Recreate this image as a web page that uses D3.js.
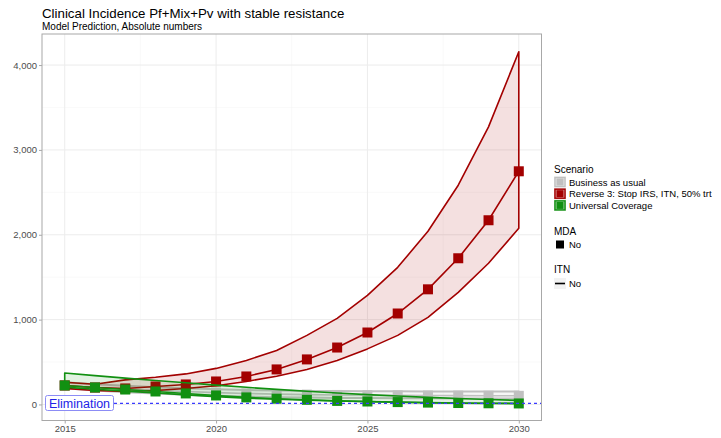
<!DOCTYPE html>
<html>
<head>
<meta charset="utf-8">
<script src="https://cdn.jsdelivr.net/npm/d3@7"></script>
<style>
  body { margin: 0; background: #fff; }
  svg { font-family: "Liberation Sans", Arial, sans-serif; }
</style>
</head>
<body>
<svg id="chart" width="721" height="438"></svg>
<script>
// Years of the model run
const years = [2015, 2016, 2017, 2018, 2019, 2020, 2021, 2022, 2023, 2024, 2025, 2026, 2027, 2028, 2029, 2030];

// Business as usual: median and uncertainty band
const bauMid   = [224, 200, 182, 166, 152, 140, 130, 122, 116, 112, 109, 107, 105, 104, 103, 102];
const bauLow   = [190, 165, 145, 128, 114, 102, 93, 86, 81, 77, 75, 73, 72, 71, 70, 70];
const bauHigh  = [262, 238, 220, 204, 190, 178, 170, 164, 160, 158, 156, 155, 154, 153, 152, 152];

// Reverse 3: Stop IRS, ITN, 50% trt
const revMid   = [224, 200, 189, 212, 236, 271, 330, 413, 531, 671, 848, 1072, 1357, 1723, 2171, 2748];
const revLow   = [190, 165, 153, 165, 189, 220, 271, 333, 413, 519, 655, 814, 1027, 1321, 1664, 2077];
const revHigh  = [262, 238, 290, 320, 360, 425, 519, 637, 814, 1015, 1286, 1616, 2041, 2584, 3272, 4157];

// Universal Coverage
const ucMid    = [224, 200, 176, 153, 130, 106, 83, 68, 55, 42, 35, 28, 22, 17, 14, 12];
const ucLow    = [204, 180, 157, 135, 113, 92, 75, 62, 50, 40, 33, 26, 20, 15, 12, 10];
const ucHigh   = [370, 340, 310, 282, 255, 228, 202, 178, 156, 135, 116, 99, 84, 70, 58, 48];

const scenarioNames = ["Business as usual", "Reverse 3: Stop IRS, ITN, 50% trt", "Universal Coverage"];
const scenarioColors = ["#c0c0c0", "#a30000", "#119011"];

const yTicks = [0, 1000, 2000, 3000, 4000];
const xTicks = [2015, 2020, 2025, 2030];
const eliminationLevel = 0;

const svg = d3.select("#chart");
const M = { left: 42, right: 541.5, top: 34, bottom: 420.5 };

const x = d3.scaleLinear().domain([2014.25, 2030.75]).range([M.left, M.right]);
const y = d3.scaleLinear().domain([-189, 4366]).range([M.bottom, M.top]);

// Title block
svg.append("text").attr("x", 42).attr("y", 18).attr("font-size", 13.3).attr("fill", "#000")
  .text("Clinical Incidence Pf+Mix+Pv with stable resistance");
svg.append("text").attr("x", 42).attr("y", 30).attr("font-size", 10).attr("fill", "#000")
  .text("Model Prediction, Absolute numbers");

// Grid
const grid = svg.append("g");
const minorY = [500, 1500, 2500, 3500];
const minorX = [2017.5, 2022.5, 2027.5];
grid.selectAll(".mny").data(minorY).join("line")
  .attr("x1", M.left).attr("x2", M.right).attr("y1", d => y(d)).attr("y2", d => y(d))
  .attr("stroke", "#f5f5f5").attr("stroke-width", 0.6);
grid.selectAll(".mnx").data(minorX).join("line")
  .attr("y1", M.top).attr("y2", M.bottom).attr("x1", d => x(d)).attr("x2", d => x(d))
  .attr("stroke", "#f5f5f5").attr("stroke-width", 0.6);
grid.selectAll(".mjy").data(yTicks).join("line")
  .attr("x1", M.left).attr("x2", M.right).attr("y1", d => y(d)).attr("y2", d => y(d))
  .attr("stroke", "#ececec").attr("stroke-width", 1);
grid.selectAll(".mjx").data(xTicks).join("line")
  .attr("y1", M.top).attr("y2", M.bottom).attr("x1", d => x(d)).attr("x2", d => x(d))
  .attr("stroke", "#ececec").attr("stroke-width", 1);

// Series
const series = [
  { mid: bauMid, low: bauLow, high: bauHigh },
  { mid: revMid, low: revLow, high: revHigh },
  { mid: ucMid, low: ucLow, high: ucHigh }
];

const line = d3.line().x(d => x(d.year)).y(d => y(d.v));

const plot = svg.append("g");
series.forEach((s, i) => {
  const rows = years.map((yr, k) => ({ year: yr, low: s.low[k], high: s.high[k], mid: s.mid[k] }));
  const col = scenarioColors[i];
  const g = plot.append("g");
  // band fill and outline (closed polygon)
  const poly = rows.map(r => [x(r.year), y(r.high)]).concat(rows.slice().reverse().map(r => [x(r.year), y(r.low)]));
  g.append("path").attr("d", "M" + poly.join("L") + "Z")
    .attr("fill", col).attr("fill-opacity", i === 0 ? 0.15 : 0.12)
    .attr("stroke", col).attr("stroke-width", i === 0 ? 2 : 1.6).attr("stroke-linejoin", "round");
  // median line
  g.append("path").attr("d", line(rows.map(r => ({ year: r.year, v: r.mid }))))
    .attr("fill", "none").attr("stroke", col).attr("stroke-width", 1.6);
  // markers
  g.selectAll("rect").data(rows).join("rect")
    .attr("x", r => x(r.year) - 5).attr("y", r => y(r.mid) - 5)
    .attr("width", 10).attr("height", 10).attr("fill", col);
});

// Elimination reference
svg.append("line").attr("x1", 114).attr("x2", M.right).attr("y1", y(eliminationLevel) - 1).attr("y2", y(eliminationLevel) - 1)
  .attr("stroke", "#3a3aff").attr("stroke-width", 1.2).attr("stroke-dasharray", "3,3");
svg.append("rect").attr("x", 45.5).attr("y", 395.5).attr("width", 68).attr("height", 15)
  .attr("rx", 2).attr("fill", "#fff").attr("stroke", "#8c8cf5").attr("stroke-width", 1);
svg.append("text").attr("x", 79.5).attr("y", 407.5).attr("text-anchor", "middle")
  .attr("font-size", 12.5).attr("fill", "#2323e6").text("Elimination");

// Panel border
svg.append("rect").attr("x", M.left).attr("y", M.top).attr("width", M.right - M.left).attr("height", M.bottom - M.top)
  .attr("fill", "none").attr("stroke", "#a8a8a8").attr("stroke-width", 1);

// Axes
const yAxis = svg.append("g").attr("transform", `translate(${M.left},0)`)
  .call(d3.axisLeft(y).tickValues(yTicks).tickFormat(d3.format(",")).tickSize(3).tickPadding(2));
const xAxis = svg.append("g").attr("transform", `translate(0,${M.bottom})`)
  .call(d3.axisBottom(x).tickValues(xTicks).tickFormat(d3.format("d")).tickSize(3).tickPadding(2));
[yAxis, xAxis].forEach(a => {
  a.select(".domain").remove();
  a.selectAll(".tick line").attr("stroke", "#a8a8a8");
  a.selectAll(".tick text").attr("fill", "#4d4d4d").attr("font-size", 9.5)
    .attr("font-family", "Liberation Sans, Arial, sans-serif");
});

// Legend
const lg = svg.append("g").attr("transform", "translate(554,0)");
lg.append("text").attr("x", 0).attr("y", 173).attr("font-size", 10).text("Scenario");
scenarioNames.forEach((name, i) => {
  const cy = 182 + i * 11.7;
  const col = scenarioColors[i];
  lg.append("rect").attr("x", 0).attr("y", cy - 5.5).attr("width", 12).attr("height", 11)
    .attr("fill", col).attr("fill-opacity", 0.35);
  lg.append("rect").attr("x", 1).attr("y", cy - 4.5).attr("width", 10).attr("height", 9)
    .attr("fill", "none").attr("stroke", col).attr("stroke-width", 1.4);
  lg.append("rect").attr("x", 2.5).attr("y", cy - 3.5).attr("width", 7).attr("height", 7).attr("fill", col);
  lg.append("text").attr("x", 15).attr("y", cy + 3.5).attr("font-size", 9.5).text(name);
});
lg.append("text").attr("x", 0).attr("y", 235).attr("font-size", 10).text("MDA");
lg.append("rect").attr("x", 2).attr("y", 240.5).attr("width", 8).attr("height", 8).attr("fill", "#000");
lg.append("text").attr("x", 15).attr("y", 248).attr("font-size", 9.5).text("No");
lg.append("text").attr("x", 0).attr("y", 273).attr("font-size", 10).text("ITN");
lg.append("rect").attr("x", 0).attr("y", 278).attr("width", 12).attr("height", 11).attr("fill", "#f2f2f2");
lg.append("line").attr("x1", 1).attr("x2", 11).attr("y1", 283.5).attr("y2", 283.5).attr("stroke", "#000").attr("stroke-width", 1.6);
lg.append("text").attr("x", 15).attr("y", 287).attr("font-size", 9.5).text("No");
</script>
</body>
</html>
